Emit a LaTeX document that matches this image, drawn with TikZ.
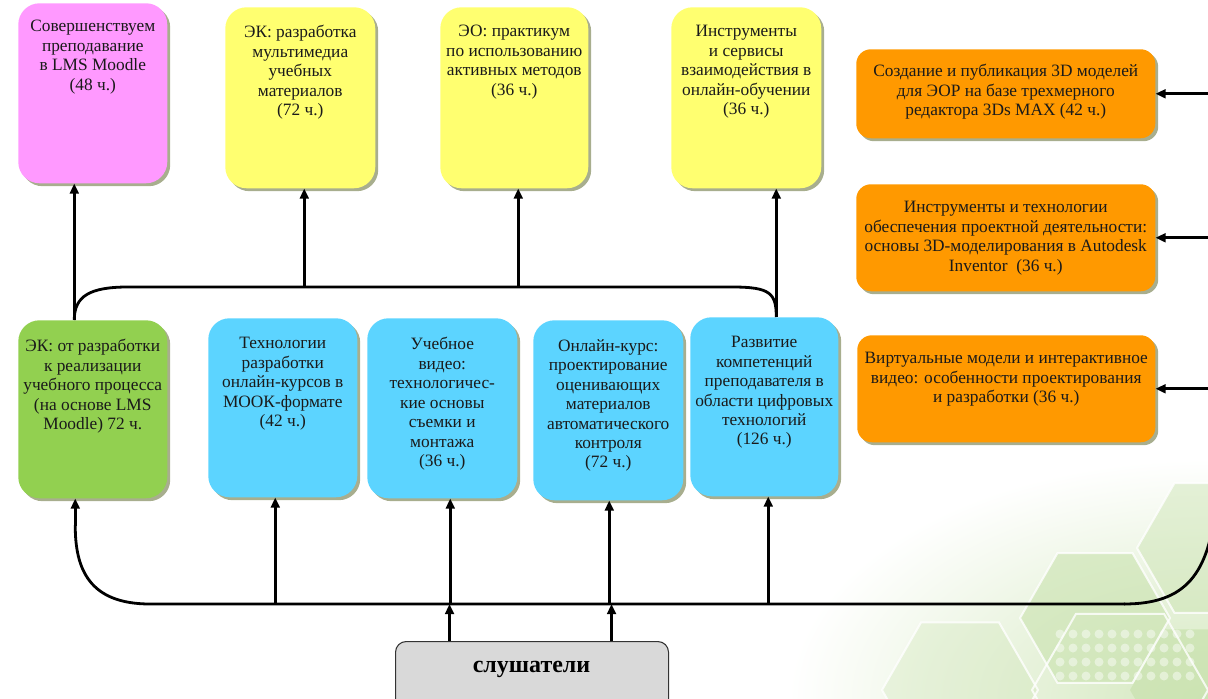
\documentclass[tikz,border=0pt]{standalone}
\usepackage{fontspec}
\setmainfont{Liberation Serif}
\newfontfamily\tnr{Liberation Serif}
\usetikzlibrary{shadows,arrows.meta,calc}
\definecolor{pinkc}{HTML}{FF99FF}
\definecolor{yelc}{HTML}{FFFF70}
\definecolor{orc}{HTML}{FF9900}
\definecolor{grc}{HTML}{92D050}
\definecolor{bluc}{HTML}{5CD4FF}
\definecolor{greyc}{HTML}{D9D9D9}
\definecolor{shadc}{HTML}{A8AE8E}
\definecolor{hexg}{HTML}{C9E2AE}
\definecolor{txtc}{HTML}{1A1A1A}
\newcommand\bx[8]{%
  \node[boxs,#6,minimum width=#4*0.75pt,minimum height=#5*0.75pt,anchor=north west] (#1) at (#2,#3) {};
  \node[txt,anchor=north] (#1t) at ([yshift=-#7*0.75pt]#1.north) {#8};}
\begin{document}
\begin{tikzpicture}[x=0.75pt,y=-0.75pt,
  boxs/.style={draw=none,inner sep=0pt,rounded corners=16pt,
    general shadow={fill=shadc,shadow xshift=2.2pt,shadow yshift=-2.2pt}},
  txt/.style={inner sep=0pt,align=center,text=txtc,font=\tnr\fontsize{13}{14.6}\selectfont},
  ln/.style={line width=2.1pt,black},
  arr/.style={line width=2.1pt,black,-{Triangle[length=7.5pt,width=6.5pt]}}]
\useasboundingbox (0,0) rectangle (1208,699);
\clip (0,0) rectangle (1208,699);
% background decoration
\shade[inner color=hexg!80, outer color=white] (1208,699) ellipse (420 and 240);
\foreach \cx/\cy/\r/\op in {1212/548/75/0.45, 1095/618/75/0.6, 1200/690/70/0.7, 960/690/78/0.3}
  \fill[hexg,opacity=\op] (\cx+\r,\cy) -- (\cx+\r/2,\cy-0.866*\r) -- (\cx-\r/2,\cy-0.866*\r) -- (\cx-\r,\cy) -- (\cx-\r/2,\cy+0.866*\r) -- (\cx+\r/2,\cy+0.866*\r) -- cycle;
\foreach \cx/\cy/\r in {1212/548/75, 1095/618/75, 960/690/78, 1120/690/88}
  \draw[white,line width=1.5pt,opacity=0.8] (\cx+\r,\cy) -- (\cx+\r/2,\cy-0.866*\r) -- (\cx-\r/2,\cy-0.866*\r) -- (\cx-\r,\cy) -- (\cx-\r/2,\cy+0.866*\r) -- (\cx+\r/2,\cy+0.866*\r) -- cycle;
\foreach \i in {0,...,10} \foreach \j in {0,1,2,3}
  \fill[white,opacity=0.45] (1060+13*\i,634+14*\j) circle (4.5);
% boxes
\bx{pk}{18}{3}{149}{180}{fill=pinkc}{17}{Совершенствуем\\преподавание\\в LMS Moodle\\(48 ч.)}
\bx{ya}{225}{7}{150}{181}{fill=yelc}{18}{ЭК: разработка\\мультимедиа\\учебных\\материалов\\(72 ч.)}
\bx{yb}{440}{7}{148}{181}{fill=yelc}{18}{ЭО: практикум\\по использованию\\активных методов\\(36 ч.)}
\bx{yc}{671}{7}{150}{181}{fill=yelc}{18}{Инструменты\\и сервисы\\взаимодействия в\\онлайн-обучении\\(36 ч.)}
\bx{oa}{856}{49}{299}{89}{fill=orc,rounded corners=11pt}{15}{Создание и публикация 3D моделей\\для ЭОР на базе трехмерного\\редактора 3Ds MAX (42 ч.)}
\bx{ob}{856}{184}{299}{107}{fill=orc,rounded corners=11pt}{17}{Инструменты и технологии\\обеспечения проектной деятельности:\\основы 3D-моделирования в Autodesk\\Inventor\ \ (36 ч.)}
\bx{oc}{857}{335}{298}{107}{fill=orc,rounded corners=11pt}{17}{Виртуальные модели и интерактивное\\видео: особенности проектирования\\и разработки (36 ч.)}
\bx{gr}{18}{320}{149}{178}{fill=grc}{19}{ЭК: от разработки\\к реализации\\учебного процесса\\(на основе LMS\\Moodle) 72 ч.}
\bx{ba}{208}{318}{149}{179}{fill=bluc}{19}{Технологии\\разработки\\онлайн-курсов в\\МООК-формате\\(42 ч.)}
\bx{bb}{367}{318}{150}{180}{fill=bluc}{19}{Учебное\\видео:\\технологичес-\\кие основы\\съемки и\\монтажа\\(36 ч.)}
\bx{bc}{533}{320}{150}{180}{fill=bluc}{19}{Онлайн-курс:\\проектирование\\оценивающих\\материалов\\автоматического\\контроля\\(72 ч.)}
\bx{bd}{690}{317}{148}{179}{fill=bluc}{19}{Развитие\\компетенций\\преподавателя в\\области цифровых\\технологий\\(126 ч.)}
\node[draw=black!80,line width=0.8pt,fill=greyc,rounded corners=8pt,inner sep=0pt,minimum width=273*0.75pt,minimum height=80*0.75pt,anchor=north west] (sl) at (395,641) {};
\node[inner sep=0pt,font=\tnr\fontsize{18}{20}\selectfont\bfseries] (slt) at (531.5,669) {слушатели};
% helper coordinates
\coordinate (brc) at (0,287);
\coordinate (bus) at (0,604);
\coordinate (redge) at (1216,0);
% top brace and arrows
\draw[ln] ([xshift=-18.5*0.75pt]gr.north) .. controls +(0,-24) and +(-38,0) .. (128,287) -- (732,287) .. controls +(38,0) and +(0,-24) .. ([xshift=12*0.75pt]bd.north);
\draw[arr] ([xshift=-18.5*0.75pt]gr.north) -- ([xshift=-18.5*0.75pt]pk.south);
\draw[arr] ([xshift=4*0.75pt]ya.south |- brc) -- ([xshift=4*0.75pt]ya.south);
\draw[arr] ([xshift=4*0.75pt]yb.south |- brc) -- ([xshift=4*0.75pt]yb.south);
\draw[arr] ([xshift=12*0.75pt]bd.north) -- ([xshift=12*0.75pt]bd.north |- yc.south);
% bottom bus
\draw[ln] (1125,604) -- (150,604) .. controls (90,604) and (75,570) .. ([xshift=-17.5*0.75pt]gr.south |- 0,525);
\draw[arr] ([xshift=-17.5*0.75pt]gr.south |- 0,526) -- ([xshift=-17.5*0.75pt]gr.south);
\draw[ln] (1124,604) .. controls (1185,604) and (1210,575) .. (1216,500);
\draw[arr] ([xshift=-7.5*0.75pt]ba.south |- bus) -- ([xshift=-7.5*0.75pt]ba.south);
\draw[arr] ([xshift=8*0.75pt]bb.south |- bus) -- ([xshift=8*0.75pt]bb.south);
\draw[arr] ([xshift=1*0.75pt]bc.south |- bus) -- ([xshift=1*0.75pt]bc.south);
\draw[arr] ([xshift=4*0.75pt]bd.south |- bus) -- ([xshift=4*0.75pt]bd.south);
\draw[arr] ([xshift=-82.5*0.75pt]sl.north) -- ([xshift=-82.5*0.75pt]sl.north |- bus);
\draw[arr] ([xshift=79.5*0.75pt]sl.north) -- ([xshift=79.5*0.75pt]sl.north |- bus);
% right arrows
\draw[arr] (oa.east -| redge) -- (oa.east);
\draw[arr] (ob.east -| redge) -- (ob.east);
\draw[arr] (oc.east -| redge) -- (oc.east);
\end{tikzpicture}
\end{document}
